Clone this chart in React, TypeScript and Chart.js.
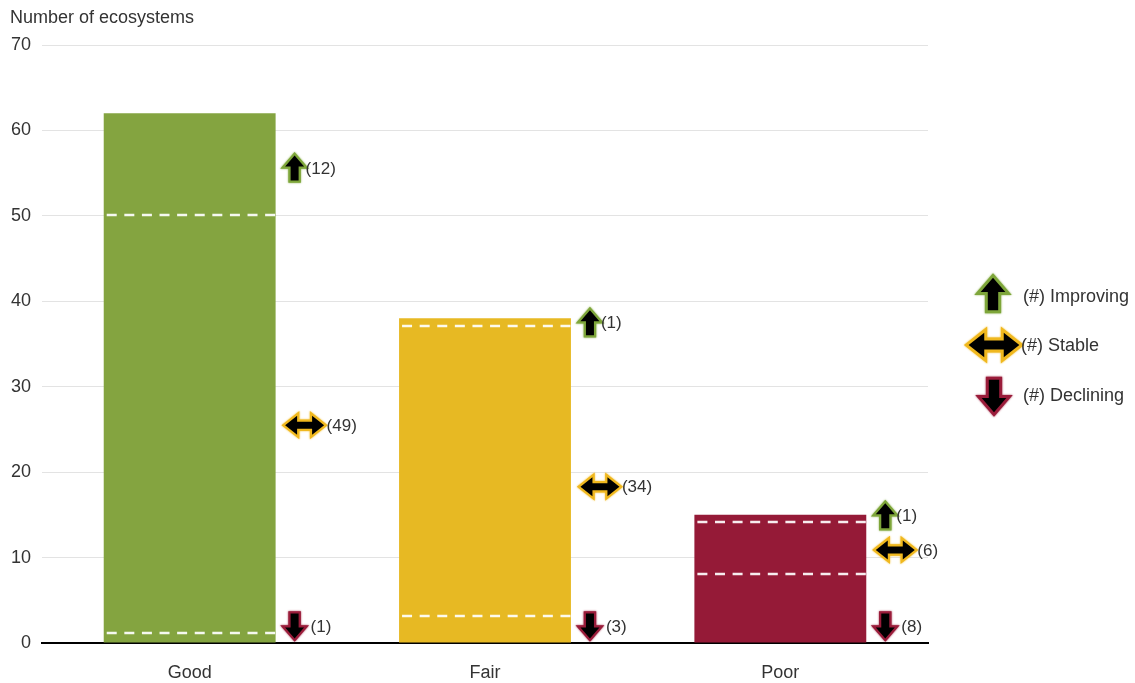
import React, { useEffect, useRef } from "react";
import { Chart, registerables } from "chart.js";

Chart.register(...registerables);

const categories = ["Good", "Fair", "Poor"];
const improving = [12, 1, 1];
const stable = [49, 34, 6];
const declining = [1, 3, 8];
// y-value (in ecosystems) at which each trend marker sits beside its bar
const improvingLevels = [55.6, 37.5, 14.9];
const stableLevels = [25.5, 18.3, 10.9];
const decliningLevels = [2, 2, 2];
const yTicks = [0, 10, 20, 30, 40, 50, 60, 70];
const barColors = ["#84a440", "#e7b923", "#951a37"];
const GREEN = "#7ea63a";
const YELLOW = "#f0b81e";
const MAROON = "#9a1c3a";
const FONT = '"Liberation Sans", Arial, sans-serif';
const TEXT = "#333333";

function upArrow(ctx: CanvasRenderingContext2D, cx: number, cy: number, s: number, dir: number, edge: string) {
  const h = 25 * s, hw = 9.5 * s, hh = 11 * s, sw = 4 * s;
  const t = cy - (dir * h) / 2;
  const b = cy + (dir * h) / 2;
  const m = t + dir * hh;
  ctx.beginPath();
  ctx.moveTo(cx, t);
  ctx.lineTo(cx + hw, m);
  ctx.lineTo(cx + sw, m);
  ctx.lineTo(cx + sw, b);
  ctx.lineTo(cx - sw, b);
  ctx.lineTo(cx - sw, m);
  ctx.lineTo(cx - hw, m);
  ctx.closePath();
  ctx.lineJoin = "miter";
  ctx.lineWidth = 4.5 * s;
  ctx.strokeStyle = edge;
  ctx.shadowColor = edge;
  ctx.shadowBlur = 2;
  ctx.stroke();
  ctx.shadowBlur = 0;
  ctx.shadowColor = "transparent";
  ctx.fillStyle = "#000";
  ctx.fill();
}

function sideArrow(ctx: CanvasRenderingContext2D, cx: number, cy: number, s: number) {
  const w = 39 * s, hh = 9.5 * s, hl = 12 * s, sh = 3.5 * s;
  const l = cx - w / 2, r = cx + w / 2;
  ctx.beginPath();
  ctx.moveTo(l, cy);
  ctx.lineTo(l + hl, cy - hh);
  ctx.lineTo(l + hl, cy - sh);
  ctx.lineTo(r - hl, cy - sh);
  ctx.lineTo(r - hl, cy - hh);
  ctx.lineTo(r, cy);
  ctx.lineTo(r - hl, cy + hh);
  ctx.lineTo(r - hl, cy + sh);
  ctx.lineTo(l + hl, cy + sh);
  ctx.lineTo(l + hl, cy + hh);
  ctx.closePath();
  ctx.lineJoin = "miter";
  ctx.lineWidth = 4.5 * s;
  ctx.strokeStyle = YELLOW;
  ctx.shadowColor = YELLOW;
  ctx.shadowBlur = 2;
  ctx.stroke();
  ctx.shadowBlur = 0;
  ctx.shadowColor = "transparent";
  ctx.fillStyle = "#000";
  ctx.fill();
}

const overlayPlugin = {
  id: "overlay",
  afterDatasetsDraw(chart: any) {
    const ctx: CanvasRenderingContext2D = chart.ctx;
    const y = chart.scales.y;
    const meta = chart.getDatasetMeta(0);
    ctx.save();
    meta.data.forEach((bar: any, i: number) => {
      const left = bar.x - bar.width / 2;
      const right = bar.x + bar.width / 2;
      // dashed boundaries between trend groups
      ctx.strokeStyle = "rgba(255,255,255,0.92)";
      ctx.lineWidth = 2.5;
      ctx.setLineDash([10, 7.6]);
      [declining[i], declining[i] + stable[i]].forEach((v) => {
        const py = Math.round(y.getPixelForValue(v)) - 1;
        ctx.beginPath();
        ctx.moveTo(left + 3, py);
        ctx.lineTo(right, py);
        ctx.stroke();
      });
      ctx.setLineDash([]);
      ctx.font = `17px ${FONT}`;
      ctx.textBaseline = "middle";
      ctx.textAlign = "left";
      // improving
      let py = y.getPixelForValue(improvingLevels[i]);
      upArrow(ctx, right + 19, py, 1, 1, GREEN);
      ctx.fillStyle = TEXT;
      ctx.fillText(`(${improving[i]})`, right + 30, py + 1);
      // stable
      py = y.getPixelForValue(stableLevels[i]);
      sideArrow(ctx, right + 29, py, 1);
      ctx.fillStyle = TEXT;
      ctx.fillText(`(${stable[i]})`, right + 51, py + 1);
      // declining
      py = y.getPixelForValue(decliningLevels[i]);
      upArrow(ctx, right + 19, py, 1, -1, MAROON);
      ctx.fillStyle = TEXT;
      ctx.fillText(`(${declining[i]})`, right + 35, py + 1);
    });
    ctx.restore();
  },
  afterDraw(chart: any) {
    const ctx: CanvasRenderingContext2D = chart.ctx;
    ctx.save();
    ctx.font = `18px ${FONT}`;
    ctx.fillStyle = TEXT;
    ctx.textBaseline = "middle";
    ctx.textAlign = "left";
    ctx.fillText("Number of ecosystems", 10, 18);
    // legend
    upArrow(ctx, 993, 294, 1.3, 1, GREEN);
    sideArrow(ctx, 994, 345, 1.3);
    upArrow(ctx, 994, 396, 1.3, -1, MAROON);
    ctx.fillStyle = TEXT;
    ctx.fillText("(#) Improving", 1023, 297);
    ctx.fillText("(#) Stable", 1021, 346);
    ctx.fillText("(#) Declining", 1023, 396);
    ctx.restore();
  },
};

export default function App() {
  const ref = useRef<HTMLCanvasElement>(null);
  useEffect(() => {
    if (!ref.current) return;
    const totals = categories.map((_, i) => improving[i] + stable[i] + declining[i]);
    const chart = new Chart(ref.current, {
      type: "bar",
      data: {
        labels: categories,
        datasets: [
          {
            data: totals,
            backgroundColor: barColors,
            borderWidth: 0,
            barPercentage: 0.582,
            categoryPercentage: 1,
          },
        ],
      },
      options: {
        animation: false,
        responsive: false,
        layout: { padding: { top: 45, right: 207, left: 0, bottom: 0 } },
        plugins: { legend: { display: false }, tooltip: { enabled: false } },
        scales: {
          x: {
            grid: { display: false, drawTicks: false },
            border: { display: true, color: "#000", width: 2 },
            ticks: { color: TEXT, font: { family: FONT, size: 18 }, padding: 19 },
            afterFit: (s: any) => {
              s.height = 40;
            },
          },
          y: {
            min: 0,
            max: 70,
            afterBuildTicks: (s: any) => {
              s.ticks = yTicks.map((v) => ({ value: v }));
            },
            grid: { color: "#e3e3e3", lineWidth: 1, drawTicks: false },
            border: { display: false },
            ticks: { color: TEXT, font: { family: FONT, size: 18 }, padding: 11 },
            afterFit: (s: any) => {
              s.width = 42;
            },
          },
        },
      },
      plugins: [overlayPlugin],
    });
    return () => chart.destroy();
  }, []);
  return (
    <div style={{ position: "fixed", left: 0, top: 0, width: 1135, height: 683, background: "#fff" }}>
      <canvas ref={ref} width={1135} height={683} style={{ width: 1135, height: 683 }} />
    </div>
  );
}
